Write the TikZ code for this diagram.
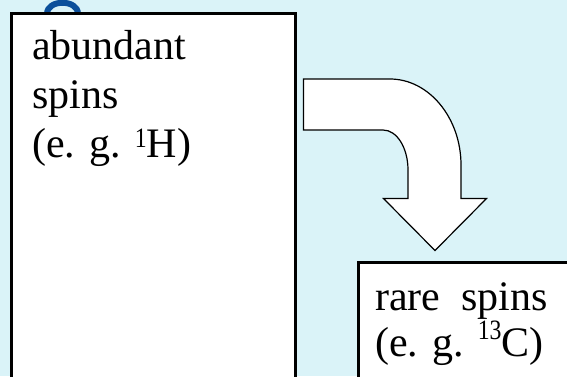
\documentclass[tikz,border=0pt]{standalone}
\usepackage{fontspec}
\setmainfont{Liberation Serif}
\definecolor{bgcyan}{RGB}{218,243,248}
\definecolor{gblue}{RGB}{12,80,155}
\newcommand{\supnum}[2]{\raisebox{#1}{\scalebox{0.85}[1]{\fontsize{28}{28}\selectfont #2}}}
\begin{document}
\begin{tikzpicture}[x=1pt,y=-1pt,
  box/.style={draw=black, fill=white, line width=3.2pt, rectangle, inner sep=0pt, anchor=north west},
  lbl/.style={inner sep=0pt, anchor=base west, font=\fontsize{42}{48}\selectfont},
  blockarrow/.style={draw=black, fill=white, line width=1.2pt, line join=miter}]
\useasboundingbox (0,0) rectangle (567,376);
\clip (0,0) rectangle (567,376);
\fill[bgcyan] (0,0) rectangle (567,376);
% remnant of a title letter
\draw[gblue, line width=6pt] (47,14) .. controls (47,-1) and (78,-1) .. (78,14);
% boxes
\node[box, minimum width=284pt, minimum height=380pt] (L) at (9.5,11.5) {};
\node[box, minimum width=240pt, minimum height=140pt] (R) at (356.5,260.5) {};
% texts
\node[lbl] (l1) at (32,59.3) {abundant};
\node[lbl] (l2) at (32,108.5) {spins};
\node[lbl] (l3) at (32,157.7) {(e. g. \supnum{10pt}{1}H)};
\node[lbl] (r1) at (375,310.5) {rare\ \ spins};
\node[lbl] (r2) at (375,356.5) {(e. g. \supnum{17pt}{13}C)};
% curved block arrow
\coordinate (as) at (303.5,79);
\coordinate (tip) at (435,250.5);
\draw[blockarrow] (as) -- (390,79) .. controls (429,79) and (461,118) .. (461,165)
  -- (461,198.5) -- (486.5,198.5) -- (tip) -- (383.5,198.5) -- (408,198.5)
  -- (408,170) .. controls (408,148) and (397,130) .. (383,130) -- (303.5,130) -- cycle;
\end{tikzpicture}
\end{document}
